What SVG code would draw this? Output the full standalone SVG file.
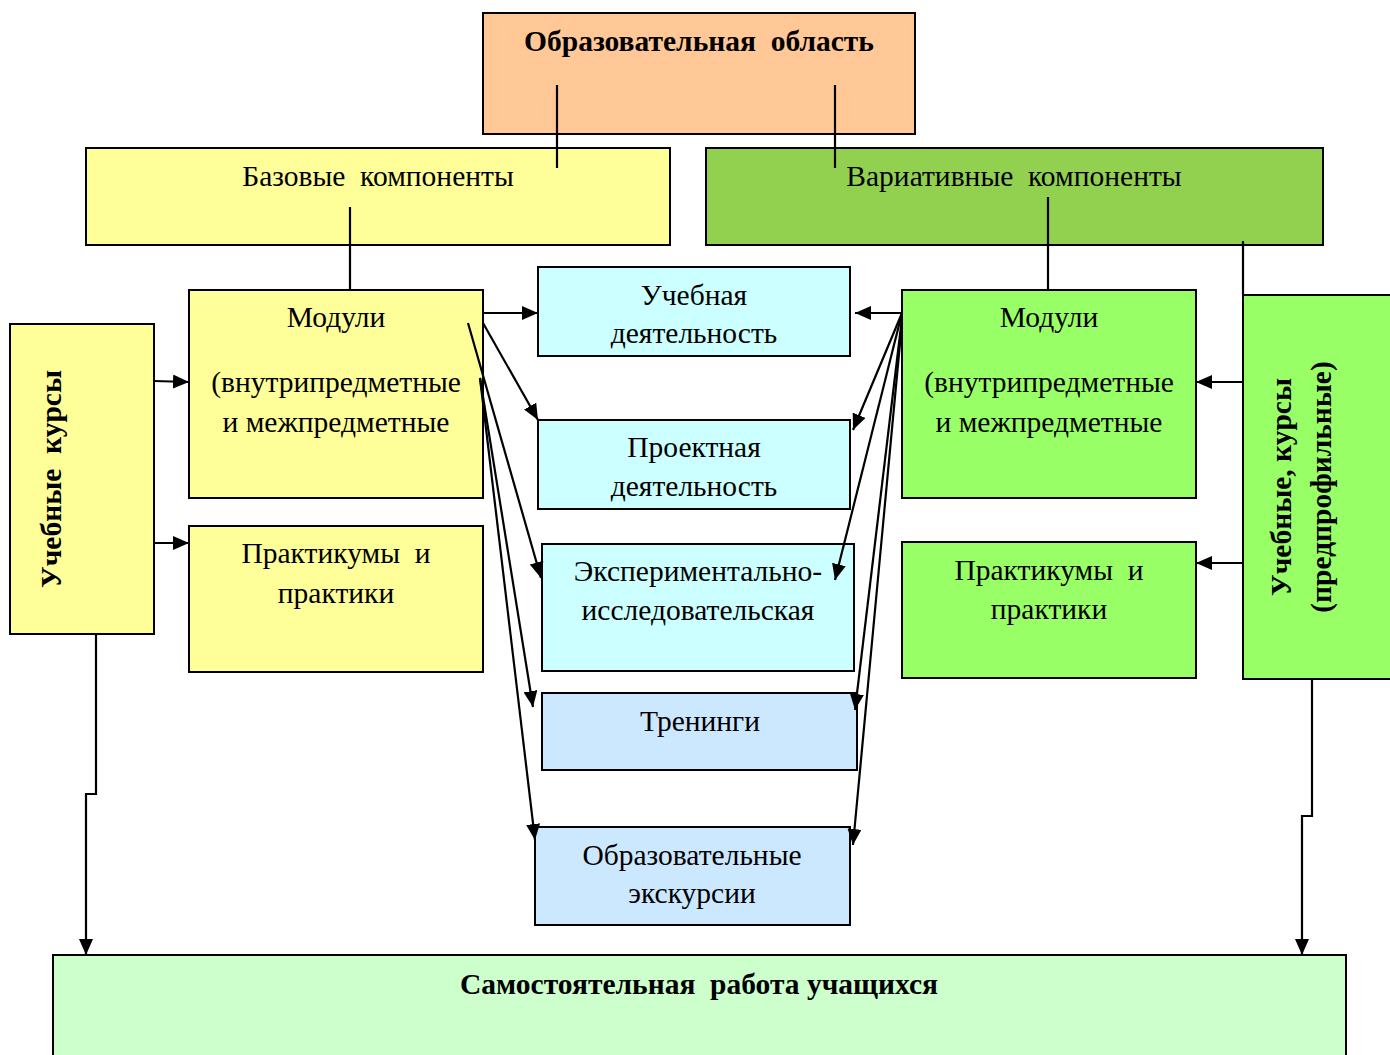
<svg xmlns="http://www.w3.org/2000/svg" width="1390" height="1055" viewBox="0 0 1390 1055">
<style>
  .box{stroke:#000;stroke-width:2}
  .t{font-family:"Liberation Serif","Times New Roman",serif;font-size:29.5px;fill:#000;text-anchor:middle}
  .b{font-weight:bold}
  .c{stroke:#000;stroke-width:2.2;fill:none}
  .a{marker-end:url(#arr)}
</style>
<defs>
  <marker id="arr" markerUnits="userSpaceOnUse" markerWidth="18" markerHeight="14" refX="16" refY="7" orient="auto">
    <path d="M0,0 L16,7 L0,14 z" fill="#000"/>
  </marker>
</defs>
<rect width="1390" height="1055" fill="#fff"/>

<g id="n-oblast"><rect class="box" x="483" y="13" width="432" height="121" fill="#FFC896"/>
<text class="t b" x="699" y="51" xml:space="preserve">Образовательная  область</text></g>

<g id="n-base"><rect class="box" x="86" y="148" width="584" height="97" fill="#FFFF99"/>
<text class="t" x="378" y="186" xml:space="preserve">Базовые  компоненты</text></g>

<g id="n-var"><rect class="box" x="706" y="148" width="617" height="97" fill="#92D050"/>
<text class="t" x="1014" y="186" xml:space="preserve">Вариативные  компоненты</text></g>

<g id="n-lmod"><rect class="box" x="189" y="290" width="294" height="208" fill="#FFFF99"/>
<text class="t" x="336" y="327">Модули</text>
<text class="t" x="336" y="392">(внутрипредметные</text>
<text class="t" x="336" y="432">и межпредметные</text></g>

<g id="n-lprak"><rect class="box" x="189" y="526" width="294" height="146" fill="#FFFF99"/>
<text class="t" x="336" y="563" xml:space="preserve">Практикумы  и</text>
<text class="t" x="336" y="603">практики</text></g>

<g id="n-lkurs"><rect class="box" x="10" y="324" width="144" height="310" fill="#FFFF99"/>
<text class="t b" transform="translate(61,479) rotate(-90)" x="0" y="0" xml:space="preserve">Учебные  курсы</text></g>

<g id="n-rmod"><rect class="box" x="902" y="290" width="294" height="208" fill="#99FF66"/>
<text class="t" x="1049" y="327">Модули</text>
<text class="t" x="1049" y="392">(внутрипредметные</text>
<text class="t" x="1049" y="432">и межпредметные</text></g>

<g id="n-rprak"><rect class="box" x="902" y="542" width="294" height="136" fill="#99FF66"/>
<text class="t" x="1049" y="580" xml:space="preserve">Практикумы  и</text>
<text class="t" x="1049" y="619">практики</text></g>

<g id="n-rkurs"><rect class="box" x="1243" y="295" width="150" height="384" fill="#99FF66"/>
<text class="t b" transform="translate(1291,487) rotate(-90)" x="0" y="0">Учебные, курсы</text>
<text class="t b" transform="translate(1331,487) rotate(-90)" x="0" y="0">(предпрофильные)</text></g>

<g id="n-ucheb"><rect class="box" x="538" y="267" width="312" height="89" fill="#CCFFFF"/>
<text class="t" x="694" y="305">Учебная</text>
<text class="t" x="694" y="343">деятельность</text></g>

<g id="n-proekt"><rect class="box" x="538" y="420" width="312" height="89" fill="#CCFFFF"/>
<text class="t" x="694" y="457">Проектная</text>
<text class="t" x="694" y="496">деятельность</text></g>

<g id="n-eksp"><rect class="box" x="542" y="544" width="312" height="127" fill="#CCFFFF"/>
<text class="t" x="698" y="581">Экспериментально-</text>
<text class="t" x="698" y="620">исследовательская</text></g>

<g id="n-trening"><rect class="box" x="542" y="693" width="315" height="77" fill="#CCE8FF"/>
<text class="t" x="700" y="731">Тренинги</text></g>

<g id="n-ekskurs"><rect class="box" x="535" y="827" width="315" height="98" fill="#CCE8FF"/>
<text class="t" x="692" y="865">Образовательные</text>
<text class="t" x="692" y="903">экскурсии</text></g>

<g id="n-samost"><rect class="box" x="53" y="955" width="1293" height="110" fill="#CCFFCC"/>
<text class="t b" x="699" y="994" xml:space="preserve">Самостоятельная  работа учащихся</text></g>

<g id="connectors">
  <line class="c" x1="557" y1="85" x2="557" y2="168"/>
  <line class="c" x1="835" y1="85" x2="835" y2="168"/>
  <line class="c" x1="350" y1="207" x2="350" y2="290"/>
  <line class="c" x1="1048" y1="197" x2="1048" y2="290"/>
  <line class="c" x1="1243" y1="241" x2="1243" y2="295"/>

  <line class="c a" x1="483" y1="313" x2="538" y2="313"/>
  <line class="c a" x1="483" y1="323" x2="538" y2="420"/>
  <line class="c a" x1="468" y1="323" x2="541" y2="578"/>
  <line class="c a" x1="480" y1="378" x2="533" y2="707"/>
  <line class="c a" x1="480" y1="378" x2="535" y2="840"/>

  <line class="c a" x1="902" y1="313" x2="855" y2="313"/>
  <line class="c a" x1="902" y1="313" x2="853" y2="430"/>
  <line class="c a" x1="902" y1="313" x2="835" y2="580"/>
  <line class="c a" x1="902" y1="318" x2="855" y2="710"/>
  <line class="c a" x1="902" y1="322" x2="853" y2="845"/>

  <line class="c a" x1="1243" y1="382" x2="1196" y2="382"/>
  <line class="c a" x1="1243" y1="563" x2="1196" y2="563"/>
  <line class="c a" x1="154" y1="381" x2="189" y2="382"/>
  <line class="c a" x1="154" y1="543" x2="189" y2="543"/>

  <polyline class="c a" points="96,634 96,794 86,794 86,955"/>
  <polyline class="c a" points="1312,679 1312,816 1302,816 1302,955"/>
</g>
</svg>
